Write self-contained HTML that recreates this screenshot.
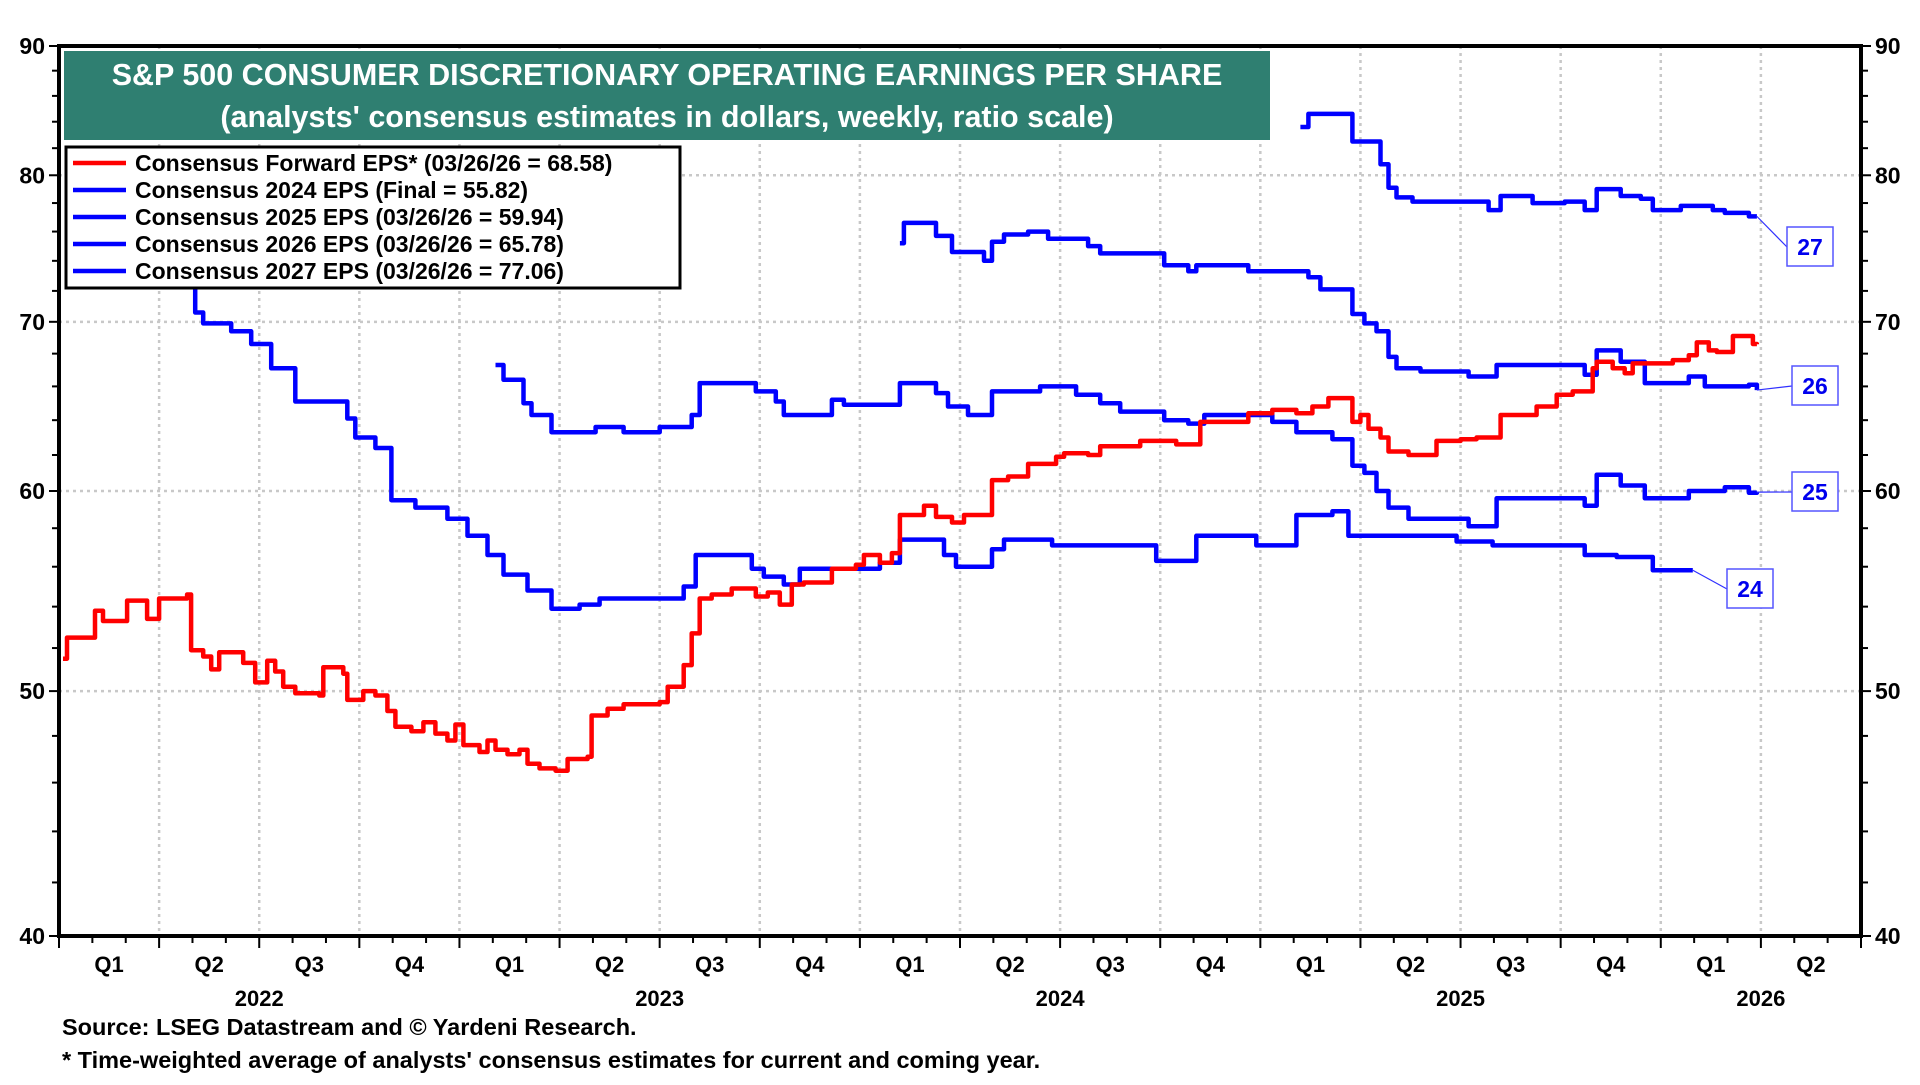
<!DOCTYPE html>
<html><head><meta charset="utf-8">
<style>
html,body{margin:0;padding:0;background:#fff;}
body{width:1920px;height:1080px;overflow:hidden;font-family:"Liberation Sans",Arial,sans-serif;}
svg text{font-family:"Liberation Sans",Arial,sans-serif;font-weight:bold;}
</style></head>
<body>
<svg id="chart" width="1920" height="1080" xmlns="http://www.w3.org/2000/svg">
<g id="grid"></g>
<g id="series"></g>
<g id="axes"></g>
<g id="labels"></g>
<g>
<rect x="64" y="51" width="1206" height="89" fill="#2f7f71"/>
<text x="667" y="85" text-anchor="middle" font-size="30.5" fill="#fff">S&amp;P 500 CONSUMER DISCRETIONARY OPERATING EARNINGS PER SHARE</text>
<text x="667" y="127" text-anchor="middle" font-size="30.5" fill="#fff">(analysts' consensus estimates in dollars, weekly, ratio scale)</text>
</g>
<g id="legend">
<rect x="66" y="147" width="614" height="141" fill="#fff" stroke="#000" stroke-width="3"/>
</g>
<text x="62" y="1035" font-size="23.5" fill="#000">Source: LSEG Datastream and © Yardeni Research.</text>
<text x="62" y="1068" font-size="23.5" fill="#000">* Time-weighted average of analysts' consensus estimates for current and coming year.</text>
</svg>
<script>
const fwdDates=[2022.01,2022.02,2022.09,2022.11,2022.17,2022.22,2022.25,2022.32,2022.33,2022.36,2022.38,2022.40,2022.46,2022.49,2022.52,2022.54,2022.56,2022.59,2022.65,2022.66,2022.71,2022.72,2022.76,2022.79,2022.82,2022.84,2022.88,2022.91,2022.94,2022.97,2022.99,2023.01,2023.05,2023.07,2023.09,2023.12,2023.15,2023.17,2023.20,2023.24,2023.27,2023.32,2023.33,2023.37,2023.41,2023.50,2023.52,2023.56,2023.58,2023.60,2023.63,2023.68,2023.74,2023.77,2023.80,2023.83,2023.86,2023.93,2023.99,2024.01,2024.05,2024.08,2024.10,2024.16,2024.19,2024.23,2024.26,2024.33,2024.37,2024.42,2024.49,2024.51,2024.57,2024.60,2024.70,2024.79,2024.85,2024.91,2024.97,2025.03,2025.09,2025.13,2025.17,2025.23,2025.25,2025.27,2025.30,2025.32,2025.37,2025.44,2025.50,2025.54,2025.60,2025.69,2025.74,2025.78,2025.83,2025.84,2025.88,2025.91,2025.93,2025.99,2026.03,2026.07,2026.09,2026.12,2026.14,2026.18,2026.23,2026.24];
const fwdValues=[51.5,52.5,53.8,53.3,54.3,53.4,54.4,54.6,51.9,51.6,51.0,51.8,51.3,50.4,51.4,50.9,50.2,49.9,49.8,51.1,50.8,49.6,50.0,49.8,49.1,48.4,48.2,48.6,48.1,47.8,48.5,47.6,47.3,47.8,47.4,47.2,47.4,46.8,46.6,46.5,47.0,47.1,48.9,49.2,49.4,49.5,50.2,51.2,52.7,54.4,54.6,54.9,54.5,54.7,54.1,55.1,55.2,55.9,56.1,56.6,56.2,56.7,58.7,59.2,58.6,58.3,58.7,60.6,60.8,61.5,61.9,62.1,62.0,62.5,62.8,62.6,63.9,63.9,64.4,64.6,64.4,64.8,65.3,63.9,64.3,63.5,63.0,62.2,62.0,62.8,62.9,63.0,64.3,64.8,65.5,65.7,67.1,67.5,67.1,66.8,67.4,67.4,67.6,67.9,68.7,68.2,68.1,69.1,68.6,68.58];
const e24Dates=[2022.33,2022.34,2022.36,2022.43,2022.48,2022.53,2022.59,2022.72,2022.74,2022.79,2022.83,2022.89,2022.97,2023.02,2023.07,2023.11,2023.17,2023.23,2023.30,2023.35,2023.56,2023.58,2023.59,2023.73,2023.76,2023.81,2023.85,2024.01,2024.05,2024.10,2024.21,2024.24,2024.33,2024.36,2024.48,2024.74,2024.84,2024.99,2025.09,2025.18,2025.22,2025.49,2025.58,2025.81,2025.89,2025.98,2026.08];
const e24Values=[72.3,70.6,69.9,69.4,68.6,67.1,65.1,64.1,63.0,62.4,59.5,59.1,58.5,57.6,56.6,55.6,54.8,53.9,54.1,54.4,55.0,55.0,56.6,55.9,55.5,55.1,55.9,55.9,56.2,57.4,56.6,56.0,56.9,57.4,57.1,56.3,57.6,57.1,58.7,58.9,57.6,57.3,57.1,56.6,56.5,55.82,55.82];
const e25Dates=[2023.09,2023.11,2023.16,2023.18,2023.23,2023.34,2023.41,2023.50,2023.58,2023.60,2023.74,2023.79,2023.81,2023.93,2023.96,2024.10,2024.19,2024.22,2024.27,2024.33,2024.45,2024.54,2024.60,2024.65,2024.76,2024.82,2024.86,2025.03,2025.09,2025.18,2025.23,2025.26,2025.29,2025.32,2025.37,2025.52,2025.59,2025.81,2025.84,2025.90,2025.96,2026.07,2026.16,2026.22,2026.24];
const e25Values=[67.3,66.4,65.0,64.3,63.3,63.6,63.3,63.6,64.3,66.2,65.7,65.1,64.3,65.2,64.9,66.2,65.6,64.8,64.3,65.7,66.0,65.5,65.0,64.5,64.0,63.8,64.3,63.9,63.3,62.9,61.4,61.0,60.0,59.1,58.5,58.1,59.6,59.2,60.9,60.3,59.6,60.0,60.2,59.9,59.94];
const e26Dates=[2024.10,2024.11,2024.19,2024.23,2024.31,2024.33,2024.36,2024.42,2024.47,2024.57,2024.60,2024.76,2024.82,2024.84,2024.97,2025.12,2025.15,2025.23,2025.26,2025.29,2025.32,2025.34,2025.40,2025.52,2025.59,2025.81,2025.84,2025.90,2025.96,2026.07,2026.11,2026.22,2026.24];
const e26Values=[75.2,76.6,75.7,74.6,74.0,75.3,75.8,76.0,75.5,75.0,74.5,73.7,73.3,73.7,73.3,72.9,72.1,70.5,69.9,69.4,67.8,67.1,66.9,66.6,67.3,66.7,68.2,67.5,66.2,66.6,66.0,66.1,65.78];
const e27Dates=[2025.10,2025.12,2025.23,2025.30,2025.32,2025.34,2025.38,2025.57,2025.60,2025.68,2025.76,2025.81,2025.84,2025.90,2025.95,2025.98,2026.05,2026.13,2026.16,2026.22,2026.24];
const e27Values=[83.6,84.6,82.5,80.8,79.1,78.4,78.1,77.5,78.5,78.0,78.1,77.5,79.0,78.5,78.3,77.5,77.8,77.5,77.3,77.06,77.06];
const yTicks=[40,50,60,70,80,90];
const qLabels=["Q1","Q2","Q3","Q4","Q1","Q2","Q3","Q4","Q1","Q2","Q3","Q4","Q1","Q2","Q3","Q4","Q1","Q2"];
const yearLabels=["2022","2023","2024","2025","2026"];
const yearCenters=[2022.5,2023.5,2024.5,2025.5,2026.25];
const legendLabels=["Consensus Forward EPS* (03/26/26 = 68.58)","Consensus 2024 EPS (Final = 55.82)","Consensus 2025 EPS (03/26/26 = 59.94)","Consensus 2026 EPS (03/26/26 = 65.78)","Consensus 2027 EPS (03/26/26 = 77.06)"];
const endLabels=["24","25","26","27"];

const L=59,R=1861,T=46,B=936,T0=2022,T1=2026.5,VMIN=40,VMAX=90;
function xS(t){return L+(t-T0)/(T1-T0)*(R-L);}
function yS(v){return B-Math.log(v/VMIN)/Math.log(VMAX/VMIN)*(B-T);}
const NS="http://www.w3.org/2000/svg";
function mk(tag,attrs,parent){const e=document.createElementNS(NS,tag);for(const k in attrs)e.setAttribute(k,attrs[k]);parent.appendChild(e);return e;}
const grid=document.getElementById('grid'),axes=document.getElementById('axes'),ser=document.getElementById('series'),lab=document.getElementById('labels'),leg=document.getElementById('legend');

yTicks.forEach(v=>{
  if(v>VMIN&&v<VMAX){const g=mk('line',{x1:L,x2:R,y1:yS(v),y2:yS(v),stroke:'#c8c8c8','stroke-width':2.5,'stroke-dasharray':'3,4'},grid);
  
  }
});
for(let q=1;q<18;q++){const x=xS(T0+q/4);const g=mk('line',{x1:x,x2:x,y1:T,y2:B,stroke:'#c8c8c8','stroke-width':2.5,'stroke-dasharray':'3,4'},grid);
  
  }

const fr=mk('rect',{x:L,y:T,width:R-L,height:B-T,fill:'none',stroke:'#000','stroke-width':4},axes);


for(let v=40;v<=90;v+=2){
  const major=yTicks.includes(v);const len=major?10:7;
  mk('line',{x1:L-len,x2:L,y1:yS(v),y2:yS(v),stroke:'#000','stroke-width':2},axes);
  mk('line',{x1:R,x2:R+len,y1:yS(v),y2:yS(v),stroke:'#000','stroke-width':2},axes);
}
yTicks.forEach(v=>{
  const a=mk('text',{x:L-14,y:yS(v)+8,'text-anchor':'end','font-size':23},axes);a.textContent=v;
  
  
  const b=mk('text',{x:R+14,y:yS(v)+8,'font-size':23},axes);b.textContent=v;
  
  
});
for(let m=0;m<=54;m++){const x=xS(T0+m/12);const q=m%3===0;
  mk('line',{x1:x,x2:x,y1:B,y2:B+(q?12:7),stroke:'#000','stroke-width':2},axes);}
qLabels.forEach((s,i)=>{const t=mk('text',{x:xS(T0+i/4+0.125),y:972,'text-anchor':'middle','font-size':22},axes);t.textContent=s;
  
  });
yearLabels.forEach((s,i)=>{const t=mk('text',{x:xS(yearCenters[i]),y:1006,'text-anchor':'middle','font-size':22},axes);t.textContent=s;
  
  });

function stepPath(d,v){let p='';for(let i=0;i<d.length;i++){const x=xS(d[i]).toFixed(1),y=yS(v[i]).toFixed(1);
  if(i===0)p+='M'+x+','+y;else p+='H'+x+'V'+y;}return p;}
const sets=[[e24Dates,e24Values,'#0000ff','series-2024-eps'],[e25Dates,e25Values,'#0000ff','series-2025-eps'],[e26Dates,e26Values,'#0000ff','series-2026-eps'],[e27Dates,e27Values,'#0000ff','series-2027-eps'],[fwdDates,fwdValues,'#ff0000','series-forward-eps']];
sets.forEach(s=>{const p=mk('path',{d:stepPath(s[0],s[1]),fill:'none',stroke:s[2],'stroke-width':4.5,'stroke-linejoin':'round'},ser);
  
  });

const boxes=[[1727,569,e24Dates,e24Values],[1792,472,e25Dates,e25Values],[1792,366,e26Dates,e26Values],[1787,227,e27Dates,e27Values]];
boxes.forEach((b,i)=>{const d=b[2],v=b[3];const ex=xS(d[d.length-1]),ey=yS(v[v.length-1]);
  mk('line',{x1:ex,y1:ey,x2:b[0],y2:b[1]+20,stroke:'#3030ff','stroke-width':1.2},lab);
  const r=mk('rect',{x:b[0],y:b[1],width:46,height:39,fill:'#fff',stroke:'#5555ff','stroke-width':1.5},lab);
  
  
  const t=mk('text',{x:b[0]+23,y:b[1]+28,'text-anchor':'middle','font-size':23,fill:'#0000ee'},lab);t.textContent=endLabels[i];
  
  });

const legColors=['#ff0000','#0000ff','#0000ff','#0000ff','#0000ff'];
legendLabels.forEach((s,i)=>{const y=163+i*27;
  mk('line',{x1:73,x2:126,y1:y,y2:y,stroke:legColors[i],'stroke-width':4.5},leg);
  const t=mk('text',{x:135,y:y+8,'font-size':23},leg);t.textContent=s;
  
  });
</script>
</body></html>
